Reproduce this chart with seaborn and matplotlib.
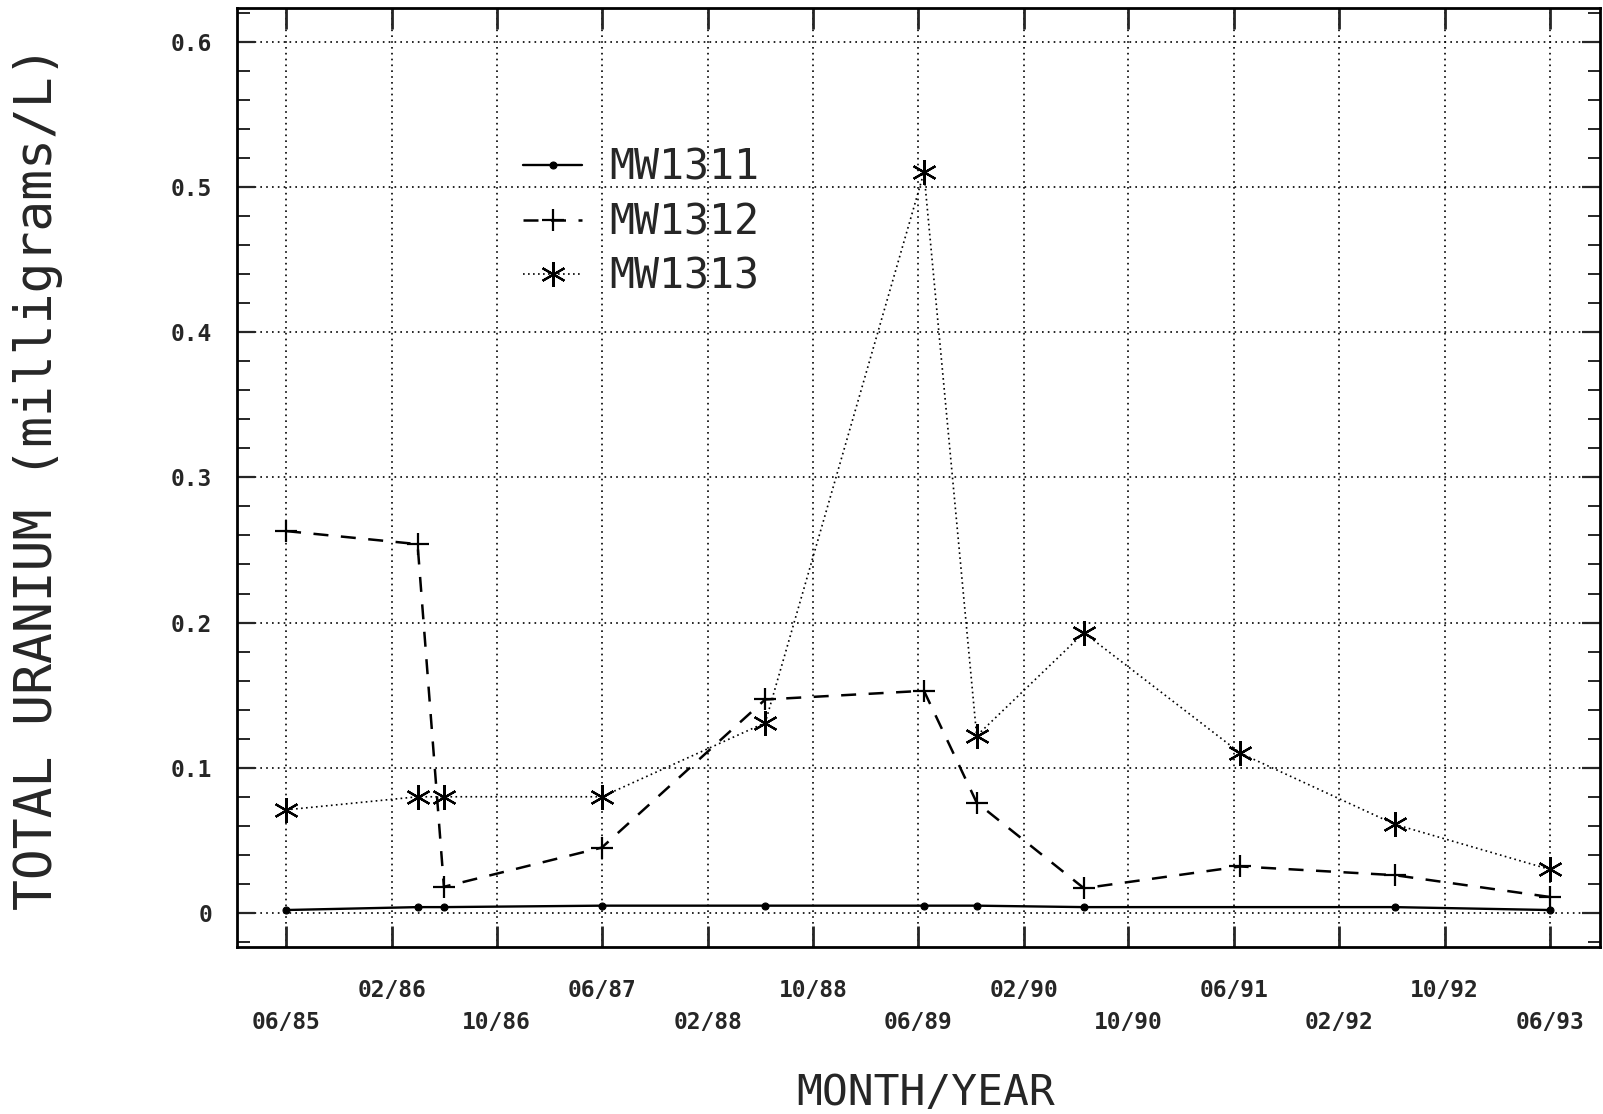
import pandas as pd
import numpy as np
import matplotlib.pyplot as plt
import matplotlib.dates as mdates
from matplotlib.ticker import MultipleLocator, FixedLocator, FixedFormatter
import seaborn as sns

# Total uranium (milligrams/L) by sampling date
dates_1311 = ['1985-06-01', '1986-04-01', '1986-06-01', '1987-06-01', '1988-06-13',
              '1989-06-15', '1989-10-15', '1990-06-20', '1992-06-08', '1993-06-01']
mw1311 = [0.002, 0.004, 0.004, 0.005, 0.005, 0.005, 0.005, 0.004, 0.004, 0.002]

dates_1312 = ['1985-06-01', '1986-04-01', '1986-06-01', '1987-06-01', '1988-06-13',
              '1989-06-15', '1989-10-15', '1990-06-20', '1991-06-17', '1992-06-08', '1993-06-01']
mw1312 = [0.263, 0.254, 0.018, 0.045, 0.147, 0.153, 0.076, 0.017, 0.032, 0.026, 0.011]

dates_1313 = ['1985-06-01', '1986-04-01', '1986-06-01', '1987-06-01', '1988-06-13',
              '1989-06-15', '1989-10-15', '1990-06-20', '1991-06-17', '1992-06-08', '1993-06-01']
mw1313 = [0.071, 0.080, 0.080, 0.080, 0.131, 0.510, 0.122, 0.193, 0.110, 0.061, 0.030]

tick_dates = pd.date_range('1985-06-01', '1993-06-01', freq='8MS')
ytick_vals = [0, 0.1, 0.2, 0.3, 0.4, 0.5, 0.6]
ytick_labels = ['0', '0.1', '0.2', '0.3', '0.4', '0.5', '0.6']

sns.set_style('white')
plt.rcParams['font.family'] = ['DejaVu Sans Mono', 'DejaVu Sans']

fig = plt.figure(figsize=(16.03, 11.14), dpi=100)
ax = fig.add_axes([0.148, 0.150, 0.850, 0.843])

# MW1311 - solid line, small dots
sns.lineplot(x=pd.to_datetime(dates_1311), y=mw1311, ax=ax, color='k', lw=1.7,
             marker='o', markersize=5, markeredgecolor='k', markeredgewidth=0.8,
             label='MW1311')
# MW1312 - dashed line, plus markers
sns.lineplot(x=pd.to_datetime(dates_1312), y=mw1312, ax=ax, color='k', lw=1.8,
             linestyle=(0, (6, 5)), marker='+', markersize=16, markeredgecolor='k',
             markeredgewidth=1.6, label='MW1312')
# MW1313 - dotted line, asterisks
sns.lineplot(x=pd.to_datetime(dates_1313), y=mw1313, ax=ax, color='k', lw=1.2,
             linestyle=(0, (1, 2)), marker=(6, 2, 0), markersize=18, markeredgecolor='k',
             markeredgewidth=1.6, label='MW1313')

ax.set_xlim(pd.Timestamp('1985-02-08'), pd.Timestamp('1993-09-25'))
ax.set_ylim(-0.0234, 0.6234)

# x ticks every 8 months, labels staggered in two rows
ax.xaxis.set_major_locator(FixedLocator(mdates.date2num(tick_dates)))
xlabs = []
for i, d in enumerate(tick_dates):
    s = d.strftime('%m/%y')
    xlabs.append('\n' + s if i % 2 == 0 else s)
ax.xaxis.set_major_formatter(FixedFormatter(xlabs))

ax.set_yticks(ytick_vals)
ax.set_yticklabels(ytick_labels)
ax.yaxis.set_minor_locator(MultipleLocator(0.02))

ax.tick_params(axis='x', which='major', direction='in', top=True, bottom=True,
               length=15, width=2, pad=23, labelsize=16.5)
ax.tick_params(axis='y', which='major', direction='in', left=True, right=True,
               length=13, width=1.6, pad=18, labelsize=16.5)
ax.tick_params(axis='y', which='minor', direction='in', left=True, right=True,
               length=9, width=1.4)
for lbl in ax.get_xticklabels():
    lbl.set_fontweight('bold')
    lbl.set_linespacing(1.5)
for lbl in ax.get_yticklabels():
    lbl.set_fontweight('bold')

ax.grid(True, which='major', color='k', lw=1.2, linestyle=(0, (1, 2.5)))
for sp in ax.spines.values():
    sp.set_linewidth(2)
    sp.set_color('k')

ax.set_ylabel('TOTAL URANIUM (milligrams/L)', fontsize=37)
ax.yaxis.set_label_coords(-0.128, 0.5)
ax.set_xlabel('MONTH/YEAR', fontsize=31)
ax.xaxis.set_label_coords(0.505, -0.133)

handles, labels = ax.get_legend_handles_labels()
ax.legend(handles, labels, loc='upper left', bbox_to_anchor=(0.21, 0.852),
          frameon=False, fontsize=30, handlelength=1.4, handletextpad=0.65,
          labelspacing=0.3, borderpad=0, borderaxespad=0)

fig.savefig('out.png', dpi=100)
